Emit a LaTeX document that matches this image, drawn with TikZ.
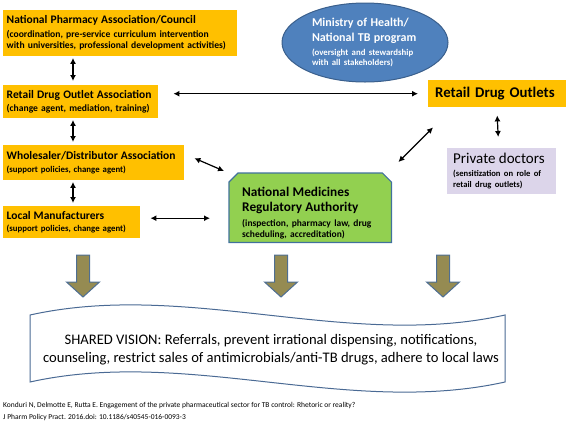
\documentclass[tikz,border=0pt]{standalone}
\usepackage{fontspec}
\setmainfont{Carlito}
\usetikzlibrary{arrows.meta,backgrounds,shapes.geometric}
\setlength{\parindent}{0pt}
\definecolor{gold}{HTML}{FFC000}
\definecolor{mohblue}{HTML}{4F81BD}
\definecolor{mohedge}{HTML}{3A5F8C}
\definecolor{nmragreen}{HTML}{92D050}
\definecolor{edgeblue}{HTML}{41719C}
\definecolor{lavender}{HTML}{DCD5EA}
\definecolor{olivefill}{HTML}{958B52}
\definecolor{arrowedge}{HTML}{4E6E92}
\definecolor{banneredge}{HTML}{4A6A94}
\newcommand\ttl[1]{{\fontsize{11.5}{13}\selectfont #1}}
\tikzset{
  goldbox/.style={fill=gold, anchor=north west, align=left, inner xsep=3.5pt, inner ysep=0pt,
    font=\fontsize{9.6}{11}\selectfont\bfseries},
  smallsub/.style={font=\fontsize{8.8}{11}\selectfont\bfseries},
  biarr/.style={{Latex[length=6pt,width=6pt]}-{Latex[length=6pt,width=6pt]}, line width=1.2pt, black},
  bigarrow/.style={fill=olivefill, draw=arrowedge, line width=1pt, line join=miter},
}
\begin{document}
\begin{tikzpicture}[x=1pt,y=-1pt]
\useasboundingbox (0,0) rectangle (567,429);

% left column
\node[goldbox, text width=227pt, minimum height=46pt] (npa) at (3,10)
  {\ttl{National Pharmacy Association/Council}\\[3pt]
   (coordination, pre-service curriculum intervention\\
   with universities, professional development activities)};
\node[goldbox, text width=148pt, minimum height=33pt] (rdoa) at (3,85)
  {\ttl{Retail Drug Outlet Association}\\[1.5pt]
   (change agent, mediation, training)};
\node[goldbox, smallsub, text width=174pt, minimum height=35pt] (wda) at (3,145)
  {\ttl{Wholesaler/Distributor Association}\\[1.5pt]
   (support policies, change agent)};
\node[goldbox, smallsub, text width=130pt, minimum height=32pt] (lm) at (3,206)
  {\ttl{Local Manufacturers}\\[1.5pt]
   (support policies, change agent)};

% ministry
\node[ellipse, fill=mohblue, draw=mohedge, line width=1pt, minimum width=166pt, minimum height=79pt,
      inner sep=0pt, text=white, text width=106pt, align=left] (moh) at (365,42.5)
  {{\fontsize{12}{15}\selectfont\bfseries Ministry of Health/\\ National TB program\par}
   \vspace{4pt}
   {\fontsize{8.8}{10}\selectfont\bfseries (oversight and stewardship\\ with all stakeholders)\par}};

% retail drug outlets
\node[fill=gold, anchor=north west, align=left, inner xsep=7pt, inner ysep=0pt, text width=124pt,
      minimum height=27pt, font=\fontsize{14.8}{16}\selectfont\bfseries] (rdo) at (428,80)
  {Retail Drug Outlets};

% private doctors
\node[fill=lavender, anchor=north west, align=left, inner xsep=6pt, inner ysep=0pt, text width=97pt,
      minimum height=46pt] (pd) at (447,148)
  {{\fontsize{15}{17}\selectfont Private doctors\par}\vspace{2pt}
   {\fontsize{8.6}{11}\selectfont\bfseries (sensitization on role of\\ retail drug outlets)\par}};

% NMRA
\node[anchor=north west, align=left, inner xsep=13pt, inner ysep=0pt, text width=136pt,
      minimum height=69pt] (nmra) at (229,173)
  {{\fontsize{13.3}{15.5}\selectfont\bfseries\rule{0pt}{20pt}National Medicines\\ Regulatory Authority\par}
   \vspace{3.5pt}
   {\fontsize{9.5}{11}\selectfont\bfseries (inspection, pharmacy law, drug\\ scheduling, accreditation)\par}};
\begin{pgfonlayer}{background}
\draw[fill=nmragreen, draw=edgeblue, line width=1.2pt]
  (nmra.south west) -- ([yshift=-9pt]nmra.north west) -- ([xshift=9pt]nmra.north west)
  -- ([xshift=-9pt]nmra.north east) -- ([yshift=-9pt]nmra.north east) -- (nmra.south east) -- cycle;
\end{pgfonlayer}

% connectors
\draw[biarr] ([xshift=70pt,yshift=-1.5pt]npa.south west) -- ([xshift=70pt,yshift=4pt]rdoa.north west);
\draw[biarr] ([xshift=70pt,yshift=-1.5pt]rdoa.south west) -- ([xshift=70pt,yshift=3pt]wda.north west);
\draw[biarr] ([xshift=70pt,yshift=-1.5pt]wda.south west) -- ([xshift=70pt,yshift=3pt]lm.north west);
\draw[biarr, shorten <=15pt, shorten >=10pt] (rdoa.east |- rdo.west) -- (rdo.west);
\draw[biarr] ([xshift=10pt,yshift=4.5pt]wda.east) -- ([xshift=-5pt,yshift=2pt]nmra.north west);
\draw[biarr] ([xshift=10pt,yshift=4pt]lm.east) -- ([xshift=-19pt,yshift=-10.5pt]nmra.west);
\draw[biarr] ([xshift=7pt,yshift=11pt]nmra.north east) -- ([xshift=5pt,yshift=-20pt]rdo.south west);
\draw[biarr] ([yshift=-8pt]rdo.south) -- ([xshift=-3.5pt,yshift=11pt]pd.north);

% big arrows
\foreach \x in {83,281,443}
  \draw[bigarrow] (\x-6.5,255) -- (\x+6.5,255) -- (\x+6.5,282) -- (\x+16.5,282) -- (\x,297)
    -- (\x-16.5,282) -- (\x-6.5,282) -- cycle;

% banner
\draw[draw=banneredge, line width=1pt, fill=white]
  (30,315) .. controls (188,280) and (347,350) .. (505,315) -- (505,382)
  .. controls (347,417) and (188,347) .. (30,382) -- cycle;
\node[align=center, font=\fontsize{14.6}{18}\selectfont, inner sep=0pt] (vision) at (271,350)
  {SHARED VISION: Referrals, prevent irrational dispensing, notifications,\\
   counseling, restrict sales of antimicrobials/anti-TB drugs, adhere to local laws};

% citation
\node[anchor=north west, align=left, inner sep=0pt, font=\fontsize{7.5}{12}\selectfont] (cite) at (3,402.5)
  {Konduri N, Delmotte E, Rutta E. Engagement of the private pharmaceutical sector for TB control: Rhetoric or reality?\\
   J Pharm Policy Pract. 2016.doi: 10.1186/s40545-016-0093-3};
\end{tikzpicture}
\end{document}
